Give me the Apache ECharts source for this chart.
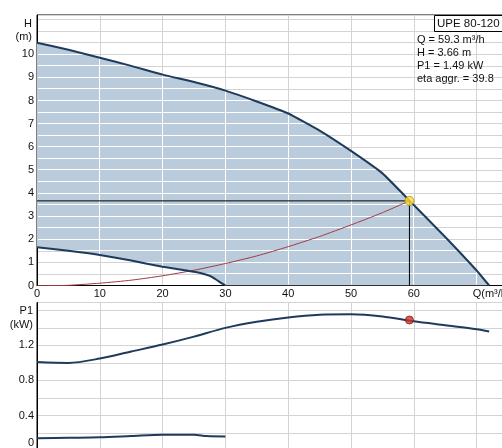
<!DOCTYPE html>
<html><head><meta charset="utf-8">
<script src="https://cdn.jsdelivr.net/npm/echarts@6/dist/echarts.min.js"></script>
<style>html,body{margin:0;padding:0;background:#fff}#c{width:502px;height:448px}</style>
</head><body><div id="c"></div>
<script>
// ---- data ----
const qMax = [0, 5, 10, 15, 20, 25, 30, 35, 40, 45, 50, 55, 60, 65, 70, 72];
const hMax = [10.5, 10.2, 9.85, 9.5, 9.12, 8.8, 8.43, 7.96, 7.44, 6.7, 5.82, 4.85, 3.48, 2.1, 0.65, 0];
const qMin = [0, 5, 10, 15, 20, 24, 26, 27.5, 28.5, 29.5, 30];
const hMin = [1.65, 1.5, 1.32, 1.08, 0.81, 0.64, 0.54, 0.42, 0.26, 0.08, 0];
const qSys = [0, 4, 10, 15, 20, 25, 30, 35, 40, 45, 50, 55, 59.3];
const hSys = [0, 0, 0.1, 0.23, 0.42, 0.66, 0.95, 1.28, 1.68, 2.12, 2.62, 3.15, 3.66];
const opPoint = [59.3, 3.66];
const qP = [0, 5, 10, 15, 20, 25, 30, 35, 40, 45, 50, 55, 60, 65, 70, 72];
const pMax = [1.01, 1.0, 1.05, 1.13, 1.21, 1.30, 1.40, 1.47, 1.52, 1.55, 1.555, 1.53, 1.475, 1.43, 1.385, 1.36];
const qPmin = [0, 5, 10, 15, 20, 25, 27, 30];
const pMin = [0.14, 0.145, 0.15, 0.165, 0.18, 0.18, 0.165, 0.16];
const opPower = [59.3, 1.49];
const pumpName = 'UPE 80-120';
const infoLines = ['Q = 59.3 m³/h', 'H = 3.66 m', 'P1 = 1.49 kW', 'eta aggr. = 39.8'];
const xTicks = [0, 10, 20, 30, 40, 50, 60];
const xUnitLabel = 'Q(m³/h)';

// ---- helpers ----
const zip = (a, b) => a.map((v, i) => [v, b[i]]);
function interp(xs, ys, x) {
  for (let i = 0; i < xs.length - 1; i++) {
    if (x >= xs[i] && x <= xs[i + 1]) {
      const t = (x - xs[i]) / (xs[i + 1] - xs[i]);
      return ys[i] + t * (ys[i + 1] - ys[i]);
    }
  }
  return x < xs[0] ? ys[0] : ys[ys.length - 1];
}
function inv(xs, ys, y) { // for decreasing ys
  return interp(ys.slice().reverse(), xs.slice().reverse(), y);
}
function sp(p) { return Math.floor(p) + 0.5; }

const FONT = 'Liberation Sans, Arial, sans-serif';
const FILL = '#bacbdc';
const GRID_GRAY = '#d3d3d3';
const CURVE = '#1f3b5c';

function renderFill(params, api) {
  const pts = [];
  for (let i = 0; i < qMax.length; i++) pts.push(api.coord([qMax[i], hMax[i]]));
  for (let i = qMin.length - 1; i >= 0; i--) pts.push(api.coord([qMin[i], hMin[i]]));
  const children = [{ type: 'polygon', shape: { points: pts }, style: { fill: FILL } }];
  for (let h = 0.5; h < hMax[0]; h += 0.5) {
    const xr = inv(qMax, hMax, h);
    const xl = h < hMin[0] ? inv(qMin, hMin, h) : 0;
    const a = api.coord([xl, h]), b = api.coord([xr, h]);
    const y = sp(a[1]);
    children.push({ type: 'line', shape: { x1: a[0] + 1, y1: y, x2: b[0], y2: y }, style: { stroke: '#ffffff', lineWidth: 1 } });
  }
  for (let q = 10; q < qMax[qMax.length - 1]; q += 10) {
    const top = interp(qMax, hMax, q);
    const bot = q < qMin[qMin.length - 1] ? interp(qMin, hMin, q) : 0;
    const a = api.coord([q, bot]), b = api.coord([q, top]);
    const x = sp(a[0]);
    children.push({ type: 'line', shape: { x1: x, y1: a[1] - 1, x2: x, y2: b[1] }, style: { stroke: '#ffffff', lineWidth: 1 } });
  }
  return { type: 'group', children };
}

const chart = echarts.init(document.getElementById('c'), null, { renderer: 'canvas' });
const axisText = { fontSize: 11, color: '#111', fontFamily: FONT };

chart.setOption({
  animation: false,
  backgroundColor: '#ffffff',
  grid: [
    { left: 37, top: 15, width: 466, height: 270.5, show: true, borderColor: '#000', borderWidth: 1, backgroundColor: '#fff', containLabel: false, outerBoundsMode: 'none' },
    { left: 37, top: 302.5, width: 466, height: 148, show: true, borderColor: '#000', borderWidth: 1, backgroundColor: '#fff', containLabel: false, outerBoundsMode: 'none' }
  ],
  xAxis: [
    {
      gridIndex: 0, type: 'value', min: 0, max: 74.2, interval: 10,
      axisLine: { show: true, onZero: false, lineStyle: { color: '#000' } },
      axisTick: { show: false },
      axisLabel: Object.assign({}, axisText, {
        margin: 3,
        formatter: v => xTicks.includes(v) ? String(v) : (v === 70 ? '{q|' + xUnitLabel + '}' : ''),
        rich: { q: Object.assign({}, axisText, { padding: [0, 0, 0, 30] }) }
      }),
      splitLine: { show: true, lineStyle: { color: GRID_GRAY } }
    },
    {
      gridIndex: 1, type: 'value', min: 0, max: 74.2, interval: 10,
      axisLine: { show: false }, axisTick: { show: false }, axisLabel: { show: false },
      splitLine: { show: true, lineStyle: { color: GRID_GRAY } }
    }
  ],
  yAxis: [
    {
      gridIndex: 0, type: 'value', min: 0, max: 11.7, interval: 0.5,
      name: 'H\n(m)', nameLocation: 'end', nameGap: -1,
      nameTextStyle: Object.assign({}, axisText, { align: 'right', verticalAlign: 'top', lineHeight: 13, padding: [1, 5, 0, 0] }),
      axisLine: { show: true, lineStyle: { color: '#000' } },
      axisTick: { show: false },
      axisLabel: Object.assign({}, axisText, {
        margin: 3,
        formatter: v => (Number.isInteger(v) && v <= 10) ? String(v) : ''
      }),
      splitLine: { show: true, lineStyle: { color: GRID_GRAY } }
    },
    {
      gridIndex: 1, type: 'value', min: 0, max: 1.69, interval: 0.2,
      name: 'P1\n(kW)', nameLocation: 'end', nameGap: -1,
      nameTextStyle: Object.assign({}, axisText, { align: 'right', verticalAlign: 'top', lineHeight: 14, padding: [0, 4, 0, 0] }),
      axisLine: { show: true, lineStyle: { color: '#000' } },
      axisTick: { show: false },
      axisLabel: Object.assign({}, axisText, {
        margin: 3,
        formatter: v => {
          const r = Math.round(v * 10);
          if (r === 0) return '{z|0}';
          if (r % 4 === 0 && r <= 12) return (r / 10).toFixed(1);
          return '';
        },
        rich: { z: Object.assign({}, axisText, { padding: [0, 0, 16, 0] }) }
      }),
      splitLine: { show: true, lineStyle: { color: GRID_GRAY } }
    }
  ],
  graphic: [
    { type: 'rect', left: 434, top: 15, shape: { width: 70, height: 16 }, style: { fill: '#fff', stroke: '#000', lineWidth: 1 }, z: 20 },
    { type: 'text', left: 437, top: 17.5, style: { text: pumpName, fontSize: 11.5, fontFamily: FONT, fill: '#111' }, z: 21 },
    { type: 'text', left: 417, top: 34, style: { text: infoLines.join('\n'), fontSize: 11, lineHeight: 12.8, fontFamily: FONT, fill: '#111' }, z: 21 }
  ],
  series: [
    { type: 'custom', xAxisIndex: 0, yAxisIndex: 0, data: [[0, 0]], renderItem: renderFill, silent: true, z: 2, clip: true },
    { type: 'line', xAxisIndex: 0, yAxisIndex: 0, data: zip(qSys, hSys), symbol: 'none', smooth: 0.2, lineStyle: { color: '#a33a44', width: 1 }, z: 5 },
    { type: 'line', xAxisIndex: 0, yAxisIndex: 0, data: zip(qMax, hMax), symbol: 'none', smooth: 0.15, lineStyle: { color: CURVE, width: 2 }, z: 6 },
    { type: 'line', xAxisIndex: 0, yAxisIndex: 0, data: zip(qMin, hMin), symbol: 'none', smooth: 0.15, lineStyle: { color: CURVE, width: 2 }, z: 6 },
    { type: 'line', xAxisIndex: 0, yAxisIndex: 0, data: [[0, opPoint[1]], opPoint, [opPoint[0], 0]], symbol: 'none', lineStyle: { color: '#000', width: 1 }, z: 7 },
    { type: 'scatter', xAxisIndex: 0, yAxisIndex: 0, data: [opPoint], symbolSize: 9, itemStyle: { color: '#ffe03a', borderColor: '#b08a00', borderWidth: 1 }, z: 8 },
    { type: 'line', xAxisIndex: 1, yAxisIndex: 1, data: zip(qP, pMax), symbol: 'none', smooth: 0.3, lineStyle: { color: CURVE, width: 2 }, z: 6 },
    { type: 'line', xAxisIndex: 1, yAxisIndex: 1, data: zip(qPmin, pMin), symbol: 'none', smooth: 0.3, lineStyle: { color: CURVE, width: 2 }, z: 6 },
    { type: 'scatter', xAxisIndex: 1, yAxisIndex: 1, data: [opPower], symbolSize: 8, itemStyle: { color: '#c8382a', borderColor: '#8a1a10', borderWidth: 1 }, z: 8 }
  ]
});
</script>
</body></html>
